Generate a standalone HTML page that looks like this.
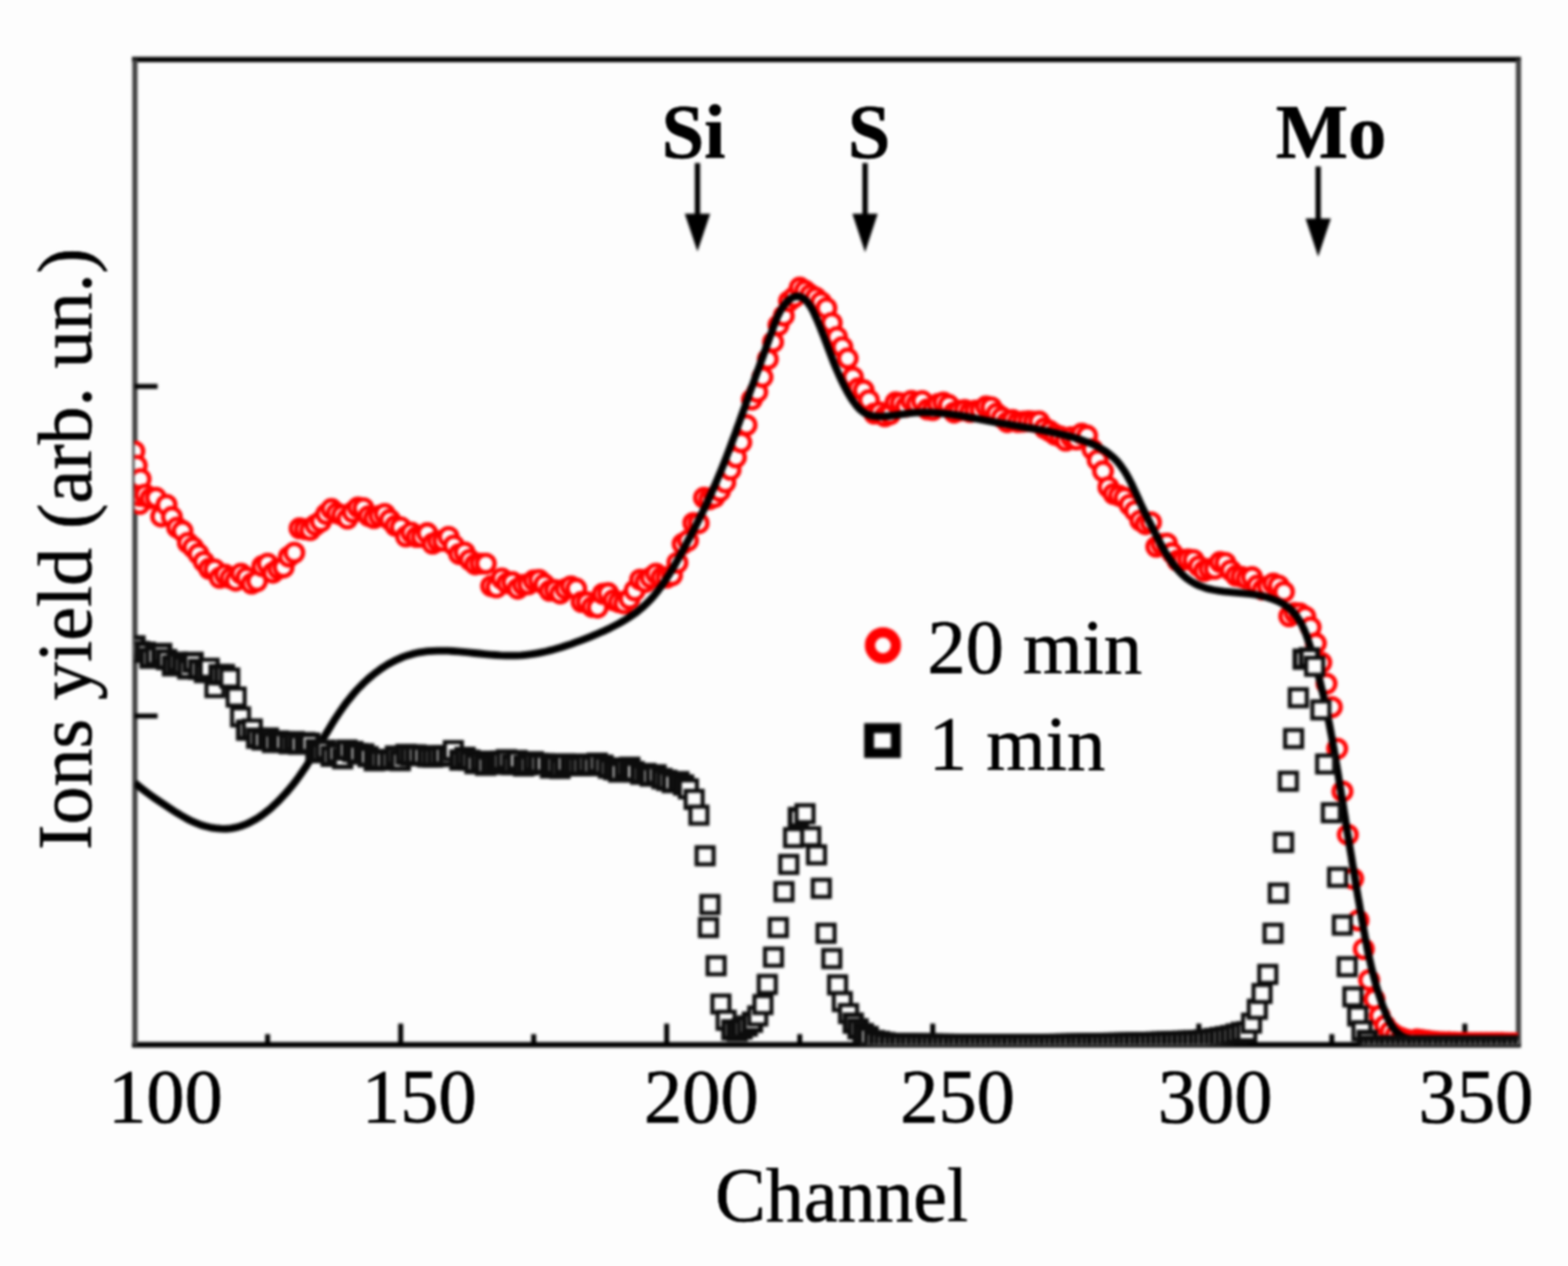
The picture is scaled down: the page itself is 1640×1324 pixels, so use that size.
<!DOCTYPE html>
<html lang="en"><head><meta charset="utf-8"><title>Ions yield vs Channel</title>
<style>
html,body{margin:0;padding:0;background:#fdfdfd;}
body{width:1640px;height:1324px;overflow:hidden;}
svg{display:block;}
.gs{filter:blur(1.5px);}
.gt{filter:blur(1.0px);}
text{font-family:"Liberation Serif",serif;fill:#000;stroke:#000;stroke-width:0.7px;stroke-linejoin:round;}
.b{font-weight:bold;}
.rc{fill:#fdfdfd;stroke:#f00;stroke-width:4.6;}
.sq{fill:#fdfdfd;stroke:#0c0c0c;stroke-width:4.3;}
.sd{stroke-width:5.1;}
</style></head><body>
<svg width="1640" height="1324" viewBox="0 0 1640 1324">
<rect x="-20" y="-20" width="1680" height="1364" fill="#fdfdfd"/>
<defs><clipPath id="pc"><rect x="140.8" y="62.3" width="1447" height="1030.2"/></clipPath></defs>

<g class="gs">
<g fill="none">
<line x1="138" y1="62.3" x2="1590.8" y2="62.3" stroke="#000" stroke-width="5.6"/>
<line x1="138" y1="1092.7" x2="1590.8" y2="1092.7" stroke="#000" stroke-width="5.8"/>
<line x1="141.1" y1="62.3" x2="141.1" y2="1092.5" stroke="#404040" stroke-width="5.4"/>
<line x1="1588.2" y1="62.3" x2="1588.2" y2="1092.5" stroke="#404040" stroke-width="5.4"/>
</g>
<g stroke="#000" stroke-width="5.2" fill="none">
<line x1="279.9" y1="1092.5" x2="279.9" y2="1081.5"/>
<line x1="419.1" y1="1092.5" x2="419.1" y2="1070.5"/>
<line x1="558.2" y1="1092.5" x2="558.2" y2="1081.5"/>
<line x1="697.3" y1="1092.5" x2="697.3" y2="1070.5"/>
<line x1="836.5" y1="1092.5" x2="836.5" y2="1081.5"/>
<line x1="975.6" y1="1092.5" x2="975.6" y2="1070.5"/>
<line x1="1114.7" y1="1092.5" x2="1114.7" y2="1081.5"/>
<line x1="1253.9" y1="1092.5" x2="1253.9" y2="1070.5"/>
<line x1="1393" y1="1092.5" x2="1393" y2="1081.5"/>
<line x1="1532.1" y1="1092.5" x2="1532.1" y2="1070.5"/>
<line x1="140.8" y1="404.1" x2="164.8" y2="404.1"/>
<line x1="140.8" y1="748.8" x2="164.8" y2="748.8"/>
</g>
<g clip-path="url(#pc)">
<g class="rc">
<circle cx="140.5" cy="472" r="9.2"/>
<circle cx="143" cy="487" r="9.2"/>
<circle cx="147" cy="501" r="9.2"/>
<circle cx="141" cy="521" r="9.2"/>
<circle cx="146" cy="527" r="9.2"/>
<circle cx="152" cy="519" r="9.2"/>
<circle cx="146.4" cy="518.6" r="9.2"/>
<circle cx="151.9" cy="517.2" r="9.2"/>
<circle cx="157.5" cy="521.2" r="9.2"/>
<circle cx="163.1" cy="520.6" r="9.2"/>
<circle cx="168.6" cy="540.2" r="9.2"/>
<circle cx="174.2" cy="528" r="9.2"/>
<circle cx="179.8" cy="540.6" r="9.2"/>
<circle cx="185.3" cy="551.7" r="9.2"/>
<circle cx="190.9" cy="555.3" r="9.2"/>
<circle cx="196.5" cy="567.7" r="9.2"/>
<circle cx="202" cy="572.6" r="9.2"/>
<circle cx="207.6" cy="579.3" r="9.2"/>
<circle cx="213.2" cy="587.4" r="9.2"/>
<circle cx="218.7" cy="594.8" r="9.2"/>
<circle cx="224.3" cy="595.4" r="9.2"/>
<circle cx="229.8" cy="604.3" r="9.2"/>
<circle cx="235.4" cy="601" r="9.2"/>
<circle cx="241" cy="604.6" r="9.2"/>
<circle cx="246.5" cy="607.2" r="9.2"/>
<circle cx="252.1" cy="599.9" r="9.2"/>
<circle cx="257.7" cy="604" r="9.2"/>
<circle cx="263.2" cy="610.3" r="9.2"/>
<circle cx="268.8" cy="607.8" r="9.2"/>
<circle cx="274.4" cy="592.1" r="9.2"/>
<circle cx="279.9" cy="589.5" r="9.2"/>
<circle cx="285.5" cy="598.9" r="9.2"/>
<circle cx="291.1" cy="594.9" r="9.2"/>
<circle cx="296.6" cy="593.4" r="9.2"/>
<circle cx="302.2" cy="582.2" r="9.2"/>
<circle cx="307.8" cy="578" r="9.2"/>
<circle cx="313.3" cy="552.6" r="9.2"/>
<circle cx="318.9" cy="553.4" r="9.2"/>
<circle cx="324.5" cy="554.3" r="9.2"/>
<circle cx="330" cy="549" r="9.2"/>
<circle cx="335.6" cy="545.3" r="9.2"/>
<circle cx="341.2" cy="537.6" r="9.2"/>
<circle cx="346.7" cy="532.3" r="9.2"/>
<circle cx="352.3" cy="536.7" r="9.2"/>
<circle cx="357.9" cy="538.7" r="9.2"/>
<circle cx="363.4" cy="542.3" r="9.2"/>
<circle cx="369" cy="535.6" r="9.2"/>
<circle cx="374.5" cy="530.7" r="9.2"/>
<circle cx="380.1" cy="531.5" r="9.2"/>
<circle cx="385.7" cy="539.7" r="9.2"/>
<circle cx="391.2" cy="541.8" r="9.2"/>
<circle cx="396.8" cy="539.5" r="9.2"/>
<circle cx="402.4" cy="537.5" r="9.2"/>
<circle cx="407.9" cy="543.6" r="9.2"/>
<circle cx="413.5" cy="549.8" r="9.2"/>
<circle cx="419.1" cy="551.4" r="9.2"/>
<circle cx="424.6" cy="561.1" r="9.2"/>
<circle cx="430.2" cy="557" r="9.2"/>
<circle cx="435.8" cy="561.5" r="9.2"/>
<circle cx="441.3" cy="561.4" r="9.2"/>
<circle cx="446.9" cy="557.6" r="9.2"/>
<circle cx="452.5" cy="568.6" r="9.2"/>
<circle cx="458" cy="565.9" r="9.2"/>
<circle cx="463.6" cy="565.6" r="9.2"/>
<circle cx="469.2" cy="561.4" r="9.2"/>
<circle cx="474.7" cy="570.4" r="9.2"/>
<circle cx="480.3" cy="579.4" r="9.2"/>
<circle cx="485.9" cy="577.7" r="9.2"/>
<circle cx="491.4" cy="585.5" r="9.2"/>
<circle cx="497" cy="590.2" r="9.2"/>
<circle cx="502.6" cy="589.4" r="9.2"/>
<circle cx="508.1" cy="589.4" r="9.2"/>
<circle cx="513.7" cy="612.9" r="9.2"/>
<circle cx="519.2" cy="614.3" r="9.2"/>
<circle cx="524.8" cy="605" r="9.2"/>
<circle cx="530.4" cy="609.9" r="9.2"/>
<circle cx="535.9" cy="608.8" r="9.2"/>
<circle cx="541.5" cy="615.7" r="9.2"/>
<circle cx="547.1" cy="611.7" r="9.2"/>
<circle cx="552.6" cy="611" r="9.2"/>
<circle cx="558.2" cy="607.1" r="9.2"/>
<circle cx="563.8" cy="606.5" r="9.2"/>
<circle cx="569.3" cy="611.1" r="9.2"/>
<circle cx="574.9" cy="617.8" r="9.2"/>
<circle cx="580.5" cy="617.1" r="9.2"/>
<circle cx="586" cy="620.7" r="9.2"/>
<circle cx="591.6" cy="615.9" r="9.2"/>
<circle cx="597.2" cy="613.2" r="9.2"/>
<circle cx="602.7" cy="615.6" r="9.2"/>
<circle cx="608.3" cy="629.6" r="9.2"/>
<circle cx="613.9" cy="629.8" r="9.2"/>
<circle cx="619.4" cy="634.7" r="9.2"/>
<circle cx="625" cy="635.4" r="9.2"/>
<circle cx="630.6" cy="621" r="9.2"/>
<circle cx="636.1" cy="620.3" r="9.2"/>
<circle cx="641.7" cy="627.5" r="9.2"/>
<circle cx="647.2" cy="629.7" r="9.2"/>
<circle cx="652.8" cy="631" r="9.2"/>
<circle cx="658.4" cy="626.3" r="9.2"/>
<circle cx="663.9" cy="617.5" r="9.2"/>
<circle cx="669.5" cy="606.2" r="9.2"/>
<circle cx="675.1" cy="608.7" r="9.2"/>
<circle cx="680.6" cy="604.2" r="9.2"/>
<circle cx="686.2" cy="600" r="9.2"/>
<circle cx="691.8" cy="603.8" r="9.2"/>
<circle cx="697.3" cy="604" r="9.2"/>
<circle cx="702.9" cy="601.6" r="9.2"/>
<circle cx="708.5" cy="588.5" r="9.2"/>
<circle cx="714" cy="568.8" r="9.2"/>
<circle cx="719.6" cy="565.3" r="9.2"/>
<circle cx="725.2" cy="547" r="9.2"/>
<circle cx="730.7" cy="547.2" r="9.2"/>
<circle cx="736.3" cy="520.6" r="9.2"/>
<circle cx="741.9" cy="522.1" r="9.2"/>
<circle cx="747.4" cy="519.8" r="9.2"/>
<circle cx="753" cy="513.7" r="9.2"/>
<circle cx="758.6" cy="504.5" r="9.2"/>
<circle cx="764.1" cy="491.3" r="9.2"/>
<circle cx="769.7" cy="478.3" r="9.2"/>
<circle cx="775.3" cy="462.6" r="9.2"/>
<circle cx="780.8" cy="444.5" r="9.2"/>
<circle cx="786.4" cy="417.8" r="9.2"/>
<circle cx="792" cy="409.9" r="9.2"/>
<circle cx="797.5" cy="394.3" r="9.2"/>
<circle cx="803.1" cy="375.7" r="9.2"/>
<circle cx="808.6" cy="357.7" r="9.2"/>
<circle cx="814.2" cy="340.1" r="9.2"/>
<circle cx="819.8" cy="330.2" r="9.2"/>
<circle cx="825.3" cy="314.9" r="9.2"/>
<circle cx="830.9" cy="310.5" r="9.2"/>
<circle cx="836.5" cy="300.8" r="9.2"/>
<circle cx="842" cy="303.9" r="9.2"/>
<circle cx="847.6" cy="308.2" r="9.2"/>
<circle cx="853.2" cy="311.2" r="9.2"/>
<circle cx="858.7" cy="316" r="9.2"/>
<circle cx="864.3" cy="322.2" r="9.2"/>
<circle cx="869.9" cy="337.7" r="9.2"/>
<circle cx="875.4" cy="352.4" r="9.2"/>
<circle cx="881" cy="362.9" r="9.2"/>
<circle cx="886.6" cy="374.8" r="9.2"/>
<circle cx="892.1" cy="394.5" r="9.2"/>
<circle cx="897.7" cy="406.1" r="9.2"/>
<circle cx="903.3" cy="408.1" r="9.2"/>
<circle cx="908.8" cy="418.5" r="9.2"/>
<circle cx="914.4" cy="432.5" r="9.2"/>
<circle cx="920" cy="431.2" r="9.2"/>
<circle cx="925.5" cy="435.3" r="9.2"/>
<circle cx="931.1" cy="433.1" r="9.2"/>
<circle cx="936.7" cy="420.8" r="9.2"/>
<circle cx="942.2" cy="421.7" r="9.2"/>
<circle cx="947.8" cy="425.1" r="9.2"/>
<circle cx="953.3" cy="419.2" r="9.2"/>
<circle cx="958.9" cy="422.1" r="9.2"/>
<circle cx="964.5" cy="419.5" r="9.2"/>
<circle cx="970" cy="428.1" r="9.2"/>
<circle cx="975.6" cy="428.8" r="9.2"/>
<circle cx="981.2" cy="422.4" r="9.2"/>
<circle cx="986.7" cy="421" r="9.2"/>
<circle cx="992.3" cy="423.6" r="9.2"/>
<circle cx="997.9" cy="431.4" r="9.2"/>
<circle cx="1003.4" cy="429.4" r="9.2"/>
<circle cx="1009" cy="428.8" r="9.2"/>
<circle cx="1014.6" cy="430.8" r="9.2"/>
<circle cx="1020.1" cy="429.6" r="9.2"/>
<circle cx="1025.7" cy="428.9" r="9.2"/>
<circle cx="1031.3" cy="425.1" r="9.2"/>
<circle cx="1036.8" cy="426" r="9.2"/>
<circle cx="1042.4" cy="432.6" r="9.2"/>
<circle cx="1048" cy="436.6" r="9.2"/>
<circle cx="1053.5" cy="441.4" r="9.2"/>
<circle cx="1059.1" cy="439.2" r="9.2"/>
<circle cx="1064.7" cy="441.3" r="9.2"/>
<circle cx="1070.2" cy="440.9" r="9.2"/>
<circle cx="1075.8" cy="440.6" r="9.2"/>
<circle cx="1081.3" cy="441.1" r="9.2"/>
<circle cx="1086.9" cy="440.8" r="9.2"/>
<circle cx="1092.5" cy="447.8" r="9.2"/>
<circle cx="1098" cy="450.8" r="9.2"/>
<circle cx="1103.6" cy="454.5" r="9.2"/>
<circle cx="1109.2" cy="456.6" r="9.2"/>
<circle cx="1114.7" cy="460.8" r="9.2"/>
<circle cx="1120.3" cy="457.3" r="9.2"/>
<circle cx="1125.9" cy="459.6" r="9.2"/>
<circle cx="1131.4" cy="453.5" r="9.2"/>
<circle cx="1137" cy="455.6" r="9.2"/>
<circle cx="1142.6" cy="469.8" r="9.2"/>
<circle cx="1148.1" cy="481.2" r="9.2"/>
<circle cx="1153.7" cy="492.8" r="9.2"/>
<circle cx="1159.3" cy="509.5" r="9.2"/>
<circle cx="1164.8" cy="516.5" r="9.2"/>
<circle cx="1170.4" cy="518.3" r="9.2"/>
<circle cx="1176" cy="520.6" r="9.2"/>
<circle cx="1181.5" cy="528" r="9.2"/>
<circle cx="1187.1" cy="534.4" r="9.2"/>
<circle cx="1192.7" cy="544.4" r="9.2"/>
<circle cx="1198.2" cy="548.2" r="9.2"/>
<circle cx="1203.8" cy="546.2" r="9.2"/>
<circle cx="1209.4" cy="571.8" r="9.2"/>
<circle cx="1214.9" cy="569.1" r="9.2"/>
<circle cx="1220.5" cy="568.4" r="9.2"/>
<circle cx="1226" cy="578.3" r="9.2"/>
<circle cx="1231.6" cy="586.3" r="9.2"/>
<circle cx="1237.2" cy="585.4" r="9.2"/>
<circle cx="1242.7" cy="584.9" r="9.2"/>
<circle cx="1248.3" cy="585.7" r="9.2"/>
<circle cx="1253.9" cy="592.2" r="9.2"/>
<circle cx="1259.4" cy="597" r="9.2"/>
<circle cx="1265" cy="595" r="9.2"/>
<circle cx="1270.6" cy="594.9" r="9.2"/>
<circle cx="1276.1" cy="587.8" r="9.2"/>
<circle cx="1281.7" cy="588.7" r="9.2"/>
<circle cx="1287.3" cy="596.5" r="9.2"/>
<circle cx="1292.8" cy="602.1" r="9.2"/>
<circle cx="1298.4" cy="603.2" r="9.2"/>
<circle cx="1304" cy="605" r="9.2"/>
<circle cx="1309.5" cy="603.6" r="9.2"/>
<circle cx="1315.1" cy="612.3" r="9.2"/>
<circle cx="1320.7" cy="616.6" r="9.2"/>
<circle cx="1326.2" cy="613.5" r="9.2"/>
<circle cx="1331.8" cy="610.2" r="9.2"/>
<circle cx="1337.4" cy="612.5" r="9.2"/>
<circle cx="1342.9" cy="618.9" r="9.2"/>
<circle cx="1348.5" cy="644.5" r="9.2"/>
<circle cx="1354.1" cy="641" r="9.2"/>
<circle cx="1359.6" cy="641.4" r="9.2"/>
<circle cx="1365.2" cy="645" r="9.2"/>
<circle cx="1370.8" cy="656" r="9.2"/>
<circle cx="1376.3" cy="672.8" r="9.2"/>
<circle cx="1381.9" cy="693" r="9.2"/>
<circle cx="1387.4" cy="715" r="9.2"/>
<circle cx="1393" cy="739.5" r="9.2"/>
<circle cx="1398.6" cy="783" r="9.2"/>
<circle cx="1404.1" cy="827.7" r="9.2"/>
<circle cx="1409.7" cy="872.9" r="9.2"/>
<circle cx="1415.3" cy="919" r="9.2"/>
<circle cx="1420.8" cy="962.5" r="9.2"/>
<circle cx="1426.4" cy="992.5" r="9.2"/>
<circle cx="1432" cy="1025" r="9.2"/>
<circle cx="1437.5" cy="1045" r="9.2"/>
<circle cx="1443.1" cy="1062.5" r="9.2"/>
<circle cx="1448.7" cy="1072.5" r="9.2"/>
<circle cx="1454.2" cy="1079" r="9.2"/>
<circle cx="1459.8" cy="1083" r="9.2"/>
<circle cx="1465.4" cy="1085.5" r="9.2"/>
<circle cx="1470.9" cy="1087.3" r="9.2"/>
<circle cx="1476.5" cy="1088.5" r="9.2"/>
<circle cx="1482.1" cy="1087" r="9.2"/>
<circle cx="1487.6" cy="1087.8" r="9.2"/>
<circle cx="1493.2" cy="1088.5" r="9.2"/>
<circle cx="1498.8" cy="1089.3" r="9.2"/>
<circle cx="1504.3" cy="1089.7" r="9.2"/>
<circle cx="1509.9" cy="1089.9" r="9.2"/>
<circle cx="1515.4" cy="1090.1" r="9.2"/>
<circle cx="1521" cy="1090.3" r="9.2"/>
<circle cx="1526.6" cy="1090.6" r="9.2"/>
<circle cx="1532.1" cy="1090.7" r="9.2"/>
<circle cx="1537.7" cy="1090.7" r="9.2"/>
<circle cx="1543.3" cy="1090.7" r="9.2"/>
<circle cx="1548.8" cy="1090.8" r="9.2"/>
<circle cx="1554.4" cy="1090.8" r="9.2"/>
<circle cx="1560" cy="1090.8" r="9.2"/>
<circle cx="1565.5" cy="1090.8" r="9.2"/>
<circle cx="1571.1" cy="1090.8" r="9.2"/>
<circle cx="1576.7" cy="1090.9" r="9.2"/>
<circle cx="1582.2" cy="1090.9" r="9.2"/>
<circle cx="1587.8" cy="1090.9" r="9.2"/>
</g>
<path d="M141,818.7 L145.2,822.2 149.4,825.6 153.7,828.9 158.1,832.1 162.5,835.2 167,838.3 171.5,841.3 176,844.3 180.5,847.3 185.1,850.2 189.8,853 194.5,855.7 199.3,858.2 204.2,860.4 209.2,862.4 214.4,864 219.7,865.3 225.1,866.2 230.6,866.7 236.1,866.8 241.5,866.3 246.7,865.4 251.9,864 256.9,862.2 261.8,859.9 266.6,857.3 271.2,854.5 275.6,851.3 280,847.9 284.2,844.4 288.2,840.7 292.1,836.9 295.8,832.9 299.5,828.9 303,824.8 306.4,820.6 309.7,816.3 312.9,812 316,807.5 319.1,803.1 322,798.5 325,793.9 327.8,789.3 330.6,784.7 333.4,780 336.2,775.4 339,770.7 341.8,766.1 344.6,761.4 347.4,756.8 350.3,752.2 353.3,747.7 356.3,743.2 359.4,738.8 362.6,734.4 366,730.2 369.4,726 373,721.9 376.8,717.9 380.7,714 384.7,710.3 388.9,706.7 393.2,703.3 397.6,700.1 402.2,697 406.8,694.2 411.6,691.6 416.5,689.3 421.4,687.2 426.4,685.4 431.5,683.9 436.6,682.7 441.9,681.8 447.1,681.2 452.4,680.8 457.8,680.6 463.1,680.6 468.6,680.7 474,681 479.5,681.4 484.9,681.9 490.4,682.4 495.9,683 501.5,683.5 507,684.1 512.5,684.6 518,685 523.4,685.4 528.9,685.6 534.3,685.7 539.7,685.6 545.1,685.3 550.4,684.8 555.7,684.2 561,683.3 566.2,682.3 571.5,681.2 576.7,679.9 581.8,678.5 587,677 592.2,675.3 597.3,673.6 602.4,671.7 607.5,669.8 612.7,667.8 617.8,665.8 622.9,663.7 627.9,661.5 633,659.3 638,656.9 642.9,654.4 647.7,651.9 652.4,649.2 657.1,646.3 661.5,643.3 665.9,640.2 670.1,636.8 674.1,633.3 677.9,629.6 681.6,625.7 685.1,621.7 688.4,617.5 691.6,613.2 694.7,608.8 697.7,604.2 700.6,599.6 703.4,594.9 706.2,590.2 708.9,585.4 711.5,580.6 714.1,575.8 716.7,571 719.2,566.1 721.8,561.3 724.3,556.5 726.8,551.7 729.2,546.9 731.6,542 734,537.2 736.4,532.3 738.7,527.5 741,522.6 743.2,517.7 745.4,512.7 747.6,507.8 749.7,502.8 751.8,497.8 753.9,492.8 755.9,487.8 757.9,482.8 759.9,477.7 761.8,472.6 763.7,467.5 765.6,462.5 767.5,457.4 769.4,452.3 771.2,447.1 773.1,442 774.9,436.9 776.7,431.8 778.6,426.7 780.4,421.5 782.2,416.4 784,411.3 785.8,406.2 787.7,401.1 789.5,396 791.3,390.9 793.2,385.8 795,380.7 796.9,375.6 798.7,370.6 800.5,365.5 802.4,360.4 804.2,355.3 806,350.3 807.8,345.2 809.6,340.1 811.6,335 813.8,330 816.4,324.9 819.5,320 823.2,315.5 827.3,312 831.6,310 836,309.9 840.4,312.1 844.3,315.7 847.5,320.2 850.3,325.2 852.7,330.4 855,335.5 857.2,340.7 859.2,345.8 861.2,350.9 863.2,356 865.1,361 867,366 868.9,371 870.8,376 872.7,381 874.8,385.9 876.9,390.8 879.1,395.7 881.4,400.6 883.9,405.5 886.5,410.3 889.3,415.1 892.4,419.8 895.7,424.3 899.4,428.2 903.5,431.5 908.1,433.9 913.2,435.2 918.7,435.6 924.3,435.4 929.8,435 935.2,434.4 940.6,433.6 946,432.9 951.3,432.2 956.7,431.6 962.1,431.3 967.5,431.2 972.9,431.3 978.4,431.6 983.8,432.1 989.2,432.6 994.6,433.3 1000,434.1 1005.3,434.9 1010.7,435.9 1016,436.8 1021.4,437.8 1026.7,438.8 1032,439.9 1037.3,440.9 1042.7,441.8 1048,442.8 1053.3,443.7 1058.7,444.6 1064,445.5 1069.3,446.4 1074.7,447.3 1080,448.2 1085.3,449.2 1090.7,450.2 1096,451.2 1101.3,452.3 1106.6,453.5 1111.9,454.7 1117.3,456.1 1122.6,457.5 1127.8,459.1 1133,460.8 1138.1,462.7 1143.1,464.7 1147.9,467.1 1152.5,469.6 1157,472.4 1161.2,475.6 1165.1,479 1168.8,482.8 1172.2,487 1175.3,491.4 1178.2,496.1 1180.9,501 1183.5,506 1185.9,511.1 1188.3,516.3 1190.6,521.4 1192.9,526.5 1195.2,531.5 1197.5,536.3 1199.8,541.1 1202.2,545.8 1204.6,550.5 1207,555.2 1209.4,559.9 1211.8,564.7 1214.3,569.4 1216.9,574.2 1219.6,578.9 1222.5,583.5 1225.6,588 1229,592.4 1232.6,596.7 1236.5,600.8 1240.7,604.5 1245.1,607.7 1249.7,610.4 1254.5,612.6 1259.4,614.4 1264.4,615.9 1269.6,617 1274.9,617.9 1280.2,618.6 1285.7,619.1 1291.1,619.6 1296.7,620.1 1302.2,620.6 1307.7,621.2 1313.2,622 1318.6,623 1324,624.3 1329.2,625.9 1334.2,627.8 1339.1,630 1343.6,632.7 1347.9,635.7 1351.7,639.2 1355.2,643.1 1358.2,647.5 1361,652.2 1363.4,657.1 1365.6,662.3 1367.5,667.6 1369.3,673 1371,678.4 1372.6,683.7 1374.1,689 1375.6,694.2 1377.1,699.3 1378.4,704.5 1379.8,709.6 1381.1,714.8 1382.3,720 1383.6,725.2 1384.8,730.5 1385.9,735.7 1387.1,741 1388.2,746.3 1389.2,751.6 1390.3,756.9 1391.3,762.2 1392.3,767.6 1393.3,772.9 1394.2,778.3 1395.2,783.6 1396.1,789 1397,794.4 1397.9,799.8 1398.8,805.1 1399.7,810.5 1400.5,815.9 1401.4,821.3 1402.3,826.6 1403.1,832 1404,837.4 1404.9,842.7 1405.7,848.1 1406.6,853.5 1407.4,858.8 1408.3,864.2 1409.1,869.5 1410,874.9 1410.9,880.2 1411.7,885.6 1412.6,890.9 1413.5,896.2 1414.3,901.6 1415.2,906.9 1416.1,912.3 1417,917.6 1417.8,922.9 1418.7,928.3 1419.6,933.6 1420.5,938.9 1421.5,944.3 1422.4,949.6 1423.3,954.9 1424.2,960.3 1425.2,965.6 1426.1,970.9 1427.1,976.3 1428.1,981.6 1429.1,986.9 1430.1,992.3 1431.2,997.6 1432.4,1002.9 1433.6,1008.2 1434.8,1013.5 1436.1,1018.7 1437.5,1024 1438.9,1029.2 1440.5,1034.5 1442.1,1039.7 1443.8,1044.9 1445.6,1050.1 1447.5,1055.2 1449.5,1060.3 1451.6,1065.4 1454.1,1070.2 1456.9,1074.6 1460.1,1078.6 1463.9,1082 1468.3,1084.7 1473.4,1086.5 1479.1,1087.6 1485.2,1088.1 1491.5,1088.2 1497.7,1088.1 1503.8,1087.9 1509.4,1087.8 1514.3,1087.9 1518.5,1088.5 1521.6,1089.7 1523.8,1091.4 1525.4,1093.5 1526.7,1095.8 1528.2,1098 1530.3,1100 1533.1,1101.4 1537.2,1102.3 1542.8,1102.2 1550.3,1101 1560.1,1098.6 1572.6,1094.7 1588,1089" fill="none" stroke="#000" stroke-width="7.8" stroke-linejoin="round" stroke-linecap="butt"/>
<g class="sq">
<rect class="sd" x="132.6" y="666.9" width="17.2" height="17.2"/>
<rect class="sd" x="137.5" y="672.8" width="17.2" height="17.2"/>
<rect class="sd" x="143.4" y="673.6" width="17.2" height="17.2"/>
<rect class="sd" x="148.3" y="679.8" width="17.2" height="17.2"/>
<rect class="sd" x="154.1" y="677.7" width="17.2" height="17.2"/>
<rect class="sd" x="160.5" y="674.8" width="17.2" height="17.2"/>
<rect class="sd" x="165.7" y="681.2" width="17.2" height="17.2"/>
<rect class="sd" x="171.8" y="687.7" width="17.2" height="17.2"/>
<rect class="sd" x="176.9" y="684" width="17.2" height="17.2"/>
<rect class="sd" x="182.3" y="687.1" width="17.2" height="17.2"/>
<rect class="sd" x="187.8" y="690.9" width="17.2" height="17.2"/>
<rect class="sd" x="193.4" y="684.1" width="17.2" height="17.2"/>
<rect class="sd" x="199.3" y="691.4" width="17.2" height="17.2"/>
<rect class="sd" x="205.3" y="694.7" width="17.2" height="17.2"/>
<rect x="209.9" y="690" width="17.8" height="17.8"/>
<rect x="215.9" y="710.2" width="17.8" height="17.8"/>
<rect class="sd" x="220.6" y="697" width="17.2" height="17.2"/>
<rect class="sd" x="226.1" y="696.9" width="17.2" height="17.2"/>
<rect x="231.4" y="700.2" width="17.8" height="17.8"/>
<rect x="238.1" y="720.1" width="17.8" height="17.8"/>
<rect x="242.7" y="740.8" width="17.8" height="17.8"/>
<rect class="sd" x="249.3" y="755" width="17.2" height="17.2"/>
<rect x="255" y="753.5" width="17.8" height="17.8"/>
<rect class="sd" x="259.8" y="763.4" width="17.2" height="17.2"/>
<rect class="sd" x="265.6" y="765.1" width="17.2" height="17.2"/>
<rect class="sd" x="272.1" y="763.3" width="17.2" height="17.2"/>
<rect class="sd" x="276.4" y="767.8" width="17.2" height="17.2"/>
<rect class="sd" x="282.5" y="766.4" width="17.2" height="17.2"/>
<rect class="sd" x="287.5" y="767.4" width="17.2" height="17.2"/>
<rect class="sd" x="294" y="769.1" width="17.2" height="17.2"/>
<rect class="sd" x="299.2" y="767.1" width="17.2" height="17.2"/>
<rect class="sd" x="304" y="769.7" width="17.2" height="17.2"/>
<rect class="sd" x="310.5" y="768" width="17.2" height="17.2"/>
<rect class="sd" x="315.2" y="768.6" width="17.2" height="17.2"/>
<rect class="sd" x="321.9" y="775.3" width="17.2" height="17.2"/>
<rect class="sd" x="326.4" y="778.5" width="17.2" height="17.2"/>
<rect class="sd" x="331.8" y="776" width="17.2" height="17.2"/>
<rect class="sd" x="337.8" y="782.3" width="17.2" height="17.2"/>
<rect class="sd" x="343.6" y="779.4" width="17.2" height="17.2"/>
<rect class="sd" x="349.8" y="784.8" width="17.2" height="17.2"/>
<rect class="sd" x="354.3" y="775.9" width="17.2" height="17.2"/>
<rect class="sd" x="360.5" y="777.4" width="17.2" height="17.2"/>
<rect class="sd" x="365.3" y="779.5" width="17.2" height="17.2"/>
<rect class="sd" x="371.8" y="779.9" width="17.2" height="17.2"/>
<rect class="sd" x="376.4" y="782.8" width="17.2" height="17.2"/>
<rect class="sd" x="382.9" y="786.9" width="17.2" height="17.2"/>
<rect class="sd" x="387.5" y="785.8" width="17.2" height="17.2"/>
<rect class="sd" x="393.1" y="786.2" width="17.2" height="17.2"/>
<rect class="sd" x="399.3" y="786.3" width="17.2" height="17.2"/>
<rect class="sd" x="405" y="782.1" width="17.2" height="17.2"/>
<rect class="sd" x="410.1" y="786.8" width="17.2" height="17.2"/>
<rect class="sd" x="416.1" y="780.4" width="17.2" height="17.2"/>
<rect class="sd" x="421" y="781.3" width="17.2" height="17.2"/>
<rect class="sd" x="426.4" y="781" width="17.2" height="17.2"/>
<rect class="sd" x="432.4" y="781.7" width="17.2" height="17.2"/>
<rect class="sd" x="438.7" y="782.9" width="17.2" height="17.2"/>
<rect class="sd" x="443.9" y="783.1" width="17.2" height="17.2"/>
<rect class="sd" x="449.2" y="782.5" width="17.2" height="17.2"/>
<rect class="sd" x="454.6" y="781.6" width="17.2" height="17.2"/>
<rect class="sd" x="460.9" y="781.9" width="17.2" height="17.2"/>
<rect x="465.3" y="776.1" width="17.8" height="17.8"/>
<rect class="sd" x="472.4" y="786.2" width="17.2" height="17.2"/>
<rect class="sd" x="477.8" y="783.5" width="17.2" height="17.2"/>
<rect class="sd" x="482.8" y="786.4" width="17.2" height="17.2"/>
<rect class="sd" x="488.2" y="789.9" width="17.2" height="17.2"/>
<rect class="sd" x="494.3" y="787.6" width="17.2" height="17.2"/>
<rect class="sd" x="499.3" y="791.7" width="17.2" height="17.2"/>
<rect class="sd" x="505.4" y="790.7" width="17.2" height="17.2"/>
<rect class="sd" x="510.5" y="789.5" width="17.2" height="17.2"/>
<rect class="sd" x="515.5" y="787.4" width="17.2" height="17.2"/>
<rect class="sd" x="521.1" y="786" width="17.2" height="17.2"/>
<rect class="sd" x="527" y="791.1" width="17.2" height="17.2"/>
<rect class="sd" x="532.2" y="786.8" width="17.2" height="17.2"/>
<rect class="sd" x="539.1" y="792.4" width="17.2" height="17.2"/>
<rect class="sd" x="543.7" y="791.3" width="17.2" height="17.2"/>
<rect class="sd" x="549.3" y="788.1" width="17.2" height="17.2"/>
<rect class="sd" x="554.6" y="790" width="17.2" height="17.2"/>
<rect class="sd" x="560.4" y="790.1" width="17.2" height="17.2"/>
<rect class="sd" x="567.1" y="794.5" width="17.2" height="17.2"/>
<rect class="sd" x="571.5" y="791.4" width="17.2" height="17.2"/>
<rect class="sd" x="577.1" y="795" width="17.2" height="17.2"/>
<rect class="sd" x="582.2" y="790.3" width="17.2" height="17.2"/>
<rect class="sd" x="588.5" y="790.7" width="17.2" height="17.2"/>
<rect class="sd" x="593.6" y="791.9" width="17.2" height="17.2"/>
<rect class="sd" x="598.9" y="792.2" width="17.2" height="17.2"/>
<rect class="sd" x="604.6" y="790.5" width="17.2" height="17.2"/>
<rect class="sd" x="610.1" y="792" width="17.2" height="17.2"/>
<rect class="sd" x="616.1" y="789.6" width="17.2" height="17.2"/>
<rect class="sd" x="622.1" y="791.8" width="17.2" height="17.2"/>
<rect class="sd" x="627.9" y="794.7" width="17.2" height="17.2"/>
<rect class="sd" x="633.4" y="796.3" width="17.2" height="17.2"/>
<rect class="sd" x="638.5" y="798.7" width="17.2" height="17.2"/>
<rect class="sd" x="645" y="794.8" width="17.2" height="17.2"/>
<rect class="sd" x="650.1" y="793.9" width="17.2" height="17.2"/>
<rect class="sd" x="654.6" y="798.4" width="17.2" height="17.2"/>
<rect class="sd" x="661.5" y="801" width="17.2" height="17.2"/>
<rect class="sd" x="666.9" y="800.4" width="17.2" height="17.2"/>
<rect class="sd" x="671.5" y="803" width="17.2" height="17.2"/>
<rect class="sd" x="677.6" y="801.8" width="17.2" height="17.2"/>
<rect class="sd" x="683.7" y="805.7" width="17.2" height="17.2"/>
<rect class="sd" x="688.9" y="807.5" width="17.2" height="17.2"/>
<rect class="sd" x="694.6" y="809.8" width="17.2" height="17.2"/>
<rect class="sd" x="701.4" y="808.9" width="17.2" height="17.2"/>
<rect class="sd" x="706.4" y="812.4" width="17.2" height="17.2"/>
<rect x="711.1" y="816.1" width="17.8" height="17.8"/>
<rect x="717.1" y="827.1" width="17.8" height="17.8"/>
<rect x="722.1" y="843.6" width="17.8" height="17.8"/>
<rect x="728.6" y="886.1" width="17.8" height="17.8"/>
<rect x="733.6" y="937.1" width="17.8" height="17.8"/>
<rect x="732.1" y="961.1" width="17.8" height="17.8"/>
<rect x="740.1" y="1001.1" width="17.8" height="17.8"/>
<rect x="745.1" y="1041.1" width="17.8" height="17.8"/>
<rect x="750.6" y="1058.1" width="17.8" height="17.8"/>
<rect class="sd" x="756.9" y="1068.4" width="17.2" height="17.2"/>
<rect class="sd" x="762.4" y="1069.4" width="17.2" height="17.2"/>
<rect class="sd" x="767.4" y="1067.4" width="17.2" height="17.2"/>
<rect class="sd" x="772.9" y="1064.4" width="17.2" height="17.2"/>
<rect class="sd" x="778.4" y="1060.4" width="17.2" height="17.2"/>
<rect x="783.6" y="1053.6" width="17.8" height="17.8"/>
<rect x="789.1" y="1041.7" width="17.8" height="17.8"/>
<rect x="793.6" y="1020.6" width="17.8" height="17.8"/>
<rect x="800.1" y="992.1" width="17.8" height="17.8"/>
<rect x="805.1" y="961.1" width="17.8" height="17.8"/>
<rect x="811.1" y="923.6" width="17.8" height="17.8"/>
<rect x="816.1" y="895.1" width="17.8" height="17.8"/>
<rect x="821.1" y="867.1" width="17.8" height="17.8"/>
<rect class="sd" x="826.4" y="846.4" width="17.2" height="17.2"/>
<rect x="833.1" y="842.1" width="17.8" height="17.8"/>
<rect x="839.1" y="866.1" width="17.8" height="17.8"/>
<rect x="845.1" y="885.1" width="17.8" height="17.8"/>
<rect x="850.1" y="920.1" width="17.8" height="17.8"/>
<rect x="855.1" y="967.1" width="17.8" height="17.8"/>
<rect x="861.1" y="993.6" width="17.8" height="17.8"/>
<rect x="867.1" y="1021.1" width="17.8" height="17.8"/>
<rect x="872.1" y="1038.6" width="17.8" height="17.8"/>
<rect x="878.6" y="1051.1" width="17.8" height="17.8"/>
<rect class="sd" x="883.9" y="1061.4" width="17.2" height="17.2"/>
<rect class="sd" x="888.9" y="1067.4" width="17.2" height="17.2"/>
<rect class="sd" x="894.4" y="1072.4" width="17.2" height="17.2"/>
<rect class="sd" x="899.4" y="1075.4" width="17.2" height="17.2"/>
<rect class="sd" x="905.8" y="1079.7" width="17.2" height="17.2"/>
<rect class="sd" x="911.4" y="1080.7" width="17.2" height="17.2"/>
<rect class="sd" x="916.9" y="1081.8" width="17.2" height="17.2"/>
<rect class="sd" x="922.5" y="1082.7" width="17.2" height="17.2"/>
<rect class="sd" x="928.1" y="1082.8" width="17.2" height="17.2"/>
<rect class="sd" x="933.6" y="1082.9" width="17.2" height="17.2"/>
<rect class="sd" x="939.2" y="1082.9" width="17.2" height="17.2"/>
<rect class="sd" x="944.7" y="1083" width="17.2" height="17.2"/>
<rect class="sd" x="950.3" y="1083.1" width="17.2" height="17.2"/>
<rect class="sd" x="955.9" y="1083.1" width="17.2" height="17.2"/>
<rect class="sd" x="961.4" y="1083.2" width="17.2" height="17.2"/>
<rect class="sd" x="967" y="1083.3" width="17.2" height="17.2"/>
<rect class="sd" x="972.6" y="1083.4" width="17.2" height="17.2"/>
<rect class="sd" x="978.1" y="1083.4" width="17.2" height="17.2"/>
<rect class="sd" x="983.7" y="1083.5" width="17.2" height="17.2"/>
<rect class="sd" x="989.3" y="1083.6" width="17.2" height="17.2"/>
<rect class="sd" x="994.8" y="1083.6" width="17.2" height="17.2"/>
<rect class="sd" x="1000.4" y="1083.6" width="17.2" height="17.2"/>
<rect class="sd" x="1006" y="1083.6" width="17.2" height="17.2"/>
<rect class="sd" x="1011.5" y="1083.6" width="17.2" height="17.2"/>
<rect class="sd" x="1017.1" y="1083.6" width="17.2" height="17.2"/>
<rect class="sd" x="1022.7" y="1083.6" width="17.2" height="17.2"/>
<rect class="sd" x="1028.2" y="1083.6" width="17.2" height="17.2"/>
<rect class="sd" x="1033.8" y="1083.6" width="17.2" height="17.2"/>
<rect class="sd" x="1039.4" y="1083.6" width="17.2" height="17.2"/>
<rect class="sd" x="1044.9" y="1083.6" width="17.2" height="17.2"/>
<rect class="sd" x="1050.5" y="1083.6" width="17.2" height="17.2"/>
<rect class="sd" x="1056.1" y="1083.6" width="17.2" height="17.2"/>
<rect class="sd" x="1061.6" y="1083.6" width="17.2" height="17.2"/>
<rect class="sd" x="1067.2" y="1083.6" width="17.2" height="17.2"/>
<rect class="sd" x="1072.8" y="1083.6" width="17.2" height="17.2"/>
<rect class="sd" x="1078.3" y="1083.6" width="17.2" height="17.2"/>
<rect class="sd" x="1083.9" y="1083.6" width="17.2" height="17.2"/>
<rect class="sd" x="1089.4" y="1083.6" width="17.2" height="17.2"/>
<rect class="sd" x="1095" y="1083.5" width="17.2" height="17.2"/>
<rect class="sd" x="1100.6" y="1083.4" width="17.2" height="17.2"/>
<rect class="sd" x="1106.1" y="1083.3" width="17.2" height="17.2"/>
<rect class="sd" x="1111.7" y="1083.2" width="17.2" height="17.2"/>
<rect class="sd" x="1117.3" y="1083.1" width="17.2" height="17.2"/>
<rect class="sd" x="1122.8" y="1083" width="17.2" height="17.2"/>
<rect class="sd" x="1128.4" y="1082.9" width="17.2" height="17.2"/>
<rect class="sd" x="1134" y="1082.8" width="17.2" height="17.2"/>
<rect class="sd" x="1139.5" y="1082.7" width="17.2" height="17.2"/>
<rect class="sd" x="1145.1" y="1082.6" width="17.2" height="17.2"/>
<rect class="sd" x="1150.7" y="1082.5" width="17.2" height="17.2"/>
<rect class="sd" x="1156.2" y="1082.4" width="17.2" height="17.2"/>
<rect class="sd" x="1161.8" y="1082.3" width="17.2" height="17.2"/>
<rect class="sd" x="1167.4" y="1082.2" width="17.2" height="17.2"/>
<rect class="sd" x="1172.9" y="1082.1" width="17.2" height="17.2"/>
<rect class="sd" x="1178.5" y="1081.9" width="17.2" height="17.2"/>
<rect class="sd" x="1184.1" y="1081.8" width="17.2" height="17.2"/>
<rect class="sd" x="1189.6" y="1081.7" width="17.2" height="17.2"/>
<rect class="sd" x="1195.2" y="1081.6" width="17.2" height="17.2"/>
<rect class="sd" x="1200.8" y="1081.3" width="17.2" height="17.2"/>
<rect class="sd" x="1206.3" y="1081.1" width="17.2" height="17.2"/>
<rect class="sd" x="1211.9" y="1080.9" width="17.2" height="17.2"/>
<rect class="sd" x="1217.5" y="1080.7" width="17.2" height="17.2"/>
<rect class="sd" x="1223" y="1080.5" width="17.2" height="17.2"/>
<rect class="sd" x="1228.6" y="1080.3" width="17.2" height="17.2"/>
<rect class="sd" x="1234.1" y="1080.1" width="17.2" height="17.2"/>
<rect class="sd" x="1239.7" y="1079.9" width="17.2" height="17.2"/>
<rect class="sd" x="1245.3" y="1079.6" width="17.2" height="17.2"/>
<rect class="sd" x="1250.8" y="1079" width="17.2" height="17.2"/>
<rect class="sd" x="1256.4" y="1078.3" width="17.2" height="17.2"/>
<rect class="sd" x="1262" y="1077.5" width="17.2" height="17.2"/>
<rect class="sd" x="1267.5" y="1076.6" width="17.2" height="17.2"/>
<rect class="sd" x="1273.1" y="1075.6" width="17.2" height="17.2"/>
<rect class="sd" x="1278.7" y="1074.5" width="17.2" height="17.2"/>
<rect class="sd" x="1284.2" y="1072.9" width="17.2" height="17.2"/>
<rect class="sd" x="1289.8" y="1071.2" width="17.2" height="17.2"/>
<rect x="1295.1" y="1070.1" width="17.8" height="17.8"/>
<rect x="1300.1" y="1061.1" width="17.8" height="17.8"/>
<rect x="1306.1" y="1046.6" width="17.8" height="17.8"/>
<rect x="1311.1" y="1030.1" width="17.8" height="17.8"/>
<rect x="1317.1" y="1010.1" width="17.8" height="17.8"/>
<rect x="1322.6" y="967.1" width="17.8" height="17.8"/>
<rect x="1328.1" y="925.1" width="17.8" height="17.8"/>
<rect x="1333.6" y="872.1" width="17.8" height="17.8"/>
<rect x="1338.6" y="808.1" width="17.8" height="17.8"/>
<rect x="1344.1" y="763.5" width="17.8" height="17.8"/>
<rect x="1349" y="720.8" width="17.8" height="17.8"/>
<rect class="sd" x="1354.4" y="680.8" width="17.2" height="17.2"/>
<rect class="sd" x="1360.9" y="679.4" width="17.2" height="17.2"/>
<rect x="1366.1" y="687.9" width="17.8" height="17.8"/>
<rect x="1372.6" y="733.5" width="17.8" height="17.8"/>
<rect x="1377.6" y="790.1" width="17.8" height="17.8"/>
<rect x="1383.6" y="841.1" width="17.8" height="17.8"/>
<rect x="1390.1" y="908.6" width="17.8" height="17.8"/>
<rect x="1395.1" y="958.6" width="17.8" height="17.8"/>
<rect x="1400.1" y="1002.1" width="17.8" height="17.8"/>
<rect x="1406.1" y="1033.6" width="17.8" height="17.8"/>
<rect x="1411.1" y="1053.6" width="17.8" height="17.8"/>
<rect x="1415.6" y="1069.1" width="17.8" height="17.8"/>
<rect class="sd" x="1421.4" y="1079.4" width="17.2" height="17.2"/>
<rect class="sd" x="1423.4" y="1085.4" width="17.2" height="17.2"/>
<rect class="sd" x="1428.9" y="1085.4" width="17.2" height="17.2"/>
<rect class="sd" x="1434.5" y="1085.4" width="17.2" height="17.2"/>
<rect class="sd" x="1440.1" y="1085.4" width="17.2" height="17.2"/>
<rect class="sd" x="1445.6" y="1085.4" width="17.2" height="17.2"/>
<rect class="sd" x="1451.2" y="1085.4" width="17.2" height="17.2"/>
<rect class="sd" x="1456.8" y="1085.4" width="17.2" height="17.2"/>
<rect class="sd" x="1462.3" y="1085.4" width="17.2" height="17.2"/>
<rect class="sd" x="1467.9" y="1085.4" width="17.2" height="17.2"/>
<rect class="sd" x="1473.5" y="1085.4" width="17.2" height="17.2"/>
<rect class="sd" x="1479" y="1085.4" width="17.2" height="17.2"/>
<rect class="sd" x="1484.6" y="1085.4" width="17.2" height="17.2"/>
<rect class="sd" x="1490.2" y="1085.4" width="17.2" height="17.2"/>
<rect class="sd" x="1495.7" y="1085.4" width="17.2" height="17.2"/>
<rect class="sd" x="1501.3" y="1085.4" width="17.2" height="17.2"/>
<rect class="sd" x="1506.8" y="1085.4" width="17.2" height="17.2"/>
<rect class="sd" x="1512.4" y="1085.4" width="17.2" height="17.2"/>
<rect class="sd" x="1518" y="1085.4" width="17.2" height="17.2"/>
<rect class="sd" x="1523.5" y="1085.4" width="17.2" height="17.2"/>
<rect class="sd" x="1529.1" y="1085.4" width="17.2" height="17.2"/>
<rect class="sd" x="1534.7" y="1085.4" width="17.2" height="17.2"/>
<rect class="sd" x="1540.2" y="1085.4" width="17.2" height="17.2"/>
<rect class="sd" x="1545.8" y="1085.4" width="17.2" height="17.2"/>
<rect class="sd" x="1551.4" y="1085.4" width="17.2" height="17.2"/>
<rect class="sd" x="1556.9" y="1085.4" width="17.2" height="17.2"/>
<rect class="sd" x="1562.5" y="1085.4" width="17.2" height="17.2"/>
<rect class="sd" x="1568.1" y="1085.4" width="17.2" height="17.2"/>
<rect class="sd" x="1573.6" y="1085.4" width="17.2" height="17.2"/>
<rect class="sd" x="1579.2" y="1085.4" width="17.2" height="17.2"/>
<rect class="sd" x="1584.8" y="1085.4" width="17.2" height="17.2"/>
<rect class="sd" x="1590.3" y="1085.4" width="17.2" height="17.2"/>
<rect x="1595.6" y="1085.1" width="17.8" height="17.8"/>
</g>
</g>
<line x1="729.5" y1="170.5" x2="729.5" y2="225.5" stroke="#000" stroke-width="5.6"/><polygon points="716.2,223.5 742.8,223.5 729.5,263" fill="#000"/>
<line x1="904.8" y1="170.5" x2="904.8" y2="225.5" stroke="#000" stroke-width="5.6"/><polygon points="891.5,223.5 918,223.5 904.8,263.8" fill="#000"/>
<line x1="1378.7" y1="174.1" x2="1378.7" y2="230.5" stroke="#000" stroke-width="5.6"/><polygon points="1365.5,228.5 1392,228.5 1378.7,268.4" fill="#000"/>
</g>
<g class="gt">
<text class="b" x="692" y="165" font-size="80">Si</text>
<text class="b" x="886.8" y="165" font-size="80">S</text>
<text class="b" x="1334.6" y="165.4" font-size="80">Mo</text>
<text x="113" y="1174.3" font-size="80">100</text>
<text x="378.6" y="1174.3" font-size="80">150</text>
<text x="673.5" y="1174.3" font-size="80">200</text>
<text x="941.5" y="1174.3" font-size="80">250</text>
<text x="1211" y="1174.3" font-size="80">300</text>
<text x="1483.7" y="1174.3" font-size="80">350</text>
<text x="748" y="1277" font-size="80" textLength="264.6" lengthAdjust="spacingAndGlyphs">Channel</text>
<text transform="translate(95 888.8) rotate(-90)" font-size="80" textLength="629.3" lengthAdjust="spacingAndGlyphs">Ions yield (arb. un.)</text>
</g>
<g class="gs">
<circle cx="923.5" cy="675" r="13.6" fill="#fdfdfd" stroke="#f00" stroke-width="10.7"/>
<rect x="909" y="761.5" width="28" height="26" fill="#fdfdfd" stroke="#000" stroke-width="10.4"/>
</g><g class="gt">
<text x="970" y="704" font-size="80">20 min</text>
<text x="971.6" y="804.5" font-size="80">1 min</text>
</g>
</svg></body></html>
